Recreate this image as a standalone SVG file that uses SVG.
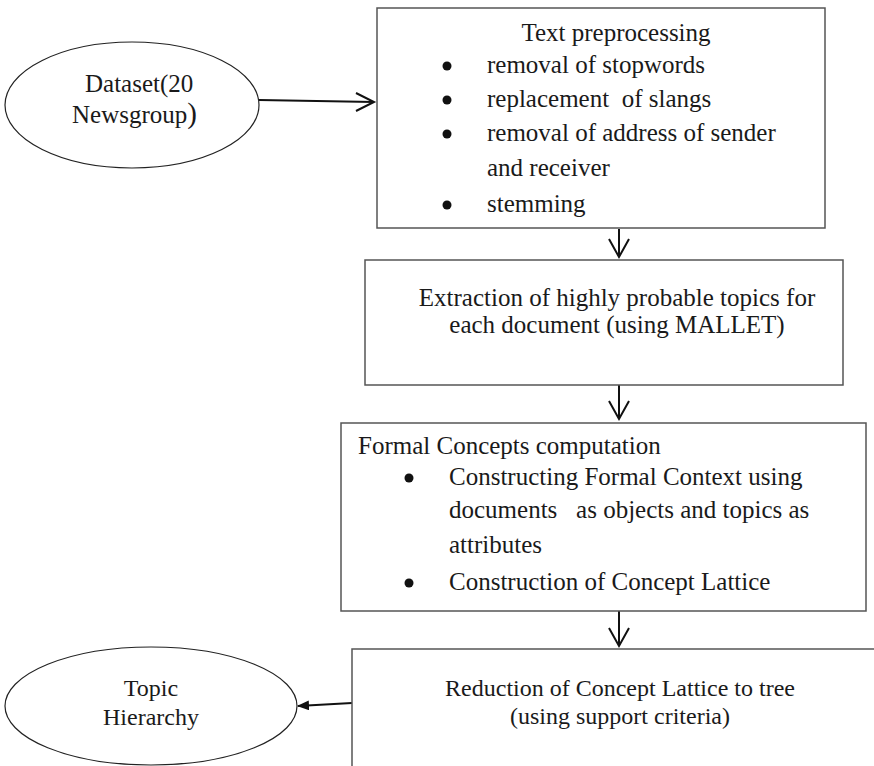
<svg xmlns="http://www.w3.org/2000/svg" width="874" height="766" viewBox="0 0 874 766">
  <style>
    .box { fill: #ffffff; stroke: #555555; stroke-width: 1.5; }
    .oval { fill: #ffffff; stroke: #222222; stroke-width: 1.2; }
    .t { font-family: "Liberation Serif", "Times New Roman", serif; font-size: 25px; fill: #1a1a1a; }
    .s { font-size: 24px; }
    .c { text-anchor: middle; }
    .dot { fill: #111111; }
    .edge { fill: none; stroke: #111111; stroke-width: 2; }
    .chev { fill: none; stroke: #111111; stroke-width: 2; stroke-linejoin: miter; }
  </style>
  <defs>
    <marker id="tri" viewBox="0 0 12 10" refX="11" refY="5" markerWidth="12" markerHeight="10" markerUnits="userSpaceOnUse" orient="auto">
      <path d="M0,0 L12,5 L0,10 Z" fill="#111111"/>
    </marker>
  </defs>

  <!-- connectors -->
  <g id="connectors">
    <line class="edge" x1="259" y1="100" x2="374" y2="102"/>
    <polyline class="chev" points="356,93 374,102 356,111"/>

    <line class="edge" x1="619" y1="229" x2="619" y2="257"/>
    <polyline class="chev" points="609,239 619,257 629,239"/>

    <line class="edge" x1="619" y1="385" x2="619" y2="419"/>
    <polyline class="chev" points="609,401 619,419 629,401"/>

    <line class="edge" x1="619" y1="611" x2="619" y2="646"/>
    <polyline class="chev" points="609,628 619,646 629,628"/>

    <line class="edge" x1="352" y1="703" x2="298" y2="706" marker-end="url(#tri)"/>
  </g>

  <!-- Dataset oval -->
  <g id="dataset">
    <ellipse class="oval" cx="132" cy="105" rx="127" ry="63"/>
    <text class="t" x="85" y="92">Dataset(20</text>
    <text class="t" x="72" y="123">Newsgroup<tspan font-size="29">)</tspan></text>
  </g>

  <!-- Text preprocessing -->
  <g id="preprocessing">
    <rect class="box" x="377" y="8" width="448" height="220"/>
    <text class="t c" x="616" y="41">Text preprocessing</text>
    <circle class="dot" cx="447" cy="66" r="4.5"/>
    <text class="t" x="487" y="73">removal of stopwords</text>
    <circle class="dot" cx="447" cy="100" r="4.5"/>
    <text class="t" x="487" y="107" xml:space="preserve">replacement  of slangs</text>
    <circle class="dot" cx="447" cy="134" r="4.5"/>
    <text class="t" x="487" y="141">removal of address of sender</text>
    <text class="t" x="487" y="176">and receiver</text>
    <circle class="dot" cx="447" cy="205" r="4.5"/>
    <text class="t" x="487" y="212">stemming</text>
  </g>

  <!-- Topic extraction -->
  <g id="extraction">
    <rect class="box" x="365" y="260" width="478" height="125"/>
    <text class="t c" x="617" y="306">Extraction of highly probable topics for</text>
    <text class="t c" x="617" y="333">each document (using MALLET)</text>
  </g>

  <!-- Formal concepts -->
  <g id="formal-concepts">
    <rect class="box" x="341" y="423" width="525" height="188"/>
    <text class="t" x="358" y="454">Formal Concepts computation</text>
    <circle class="dot" cx="409" cy="478" r="4.5"/>
    <text class="t" x="449" y="485">Constructing Formal Context using</text>
    <text class="t" x="449" y="518" xml:space="preserve">documents   as objects and topics as</text>
    <text class="t" x="449" y="553">attributes</text>
    <circle class="dot" cx="409" cy="583" r="4.5"/>
    <text class="t" x="449" y="590">Construction of Concept Lattice</text>
  </g>

  <!-- Reduction to tree -->
  <g id="reduction">
    <rect class="box" x="352" y="649" width="540" height="140"/>
    <text class="t s c" x="620" y="696">Reduction of Concept Lattice to tree</text>
    <text class="t s c" x="620" y="724">(using support criteria)</text>
  </g>

  <!-- Topic hierarchy oval -->
  <g id="topic-hierarchy">
    <ellipse class="oval" cx="151" cy="706" rx="146" ry="59"/>
    <text class="t s c" x="151" y="696">Topic</text>
    <text class="t s c" x="151" y="725">Hierarchy</text>
  </g>
</svg>
